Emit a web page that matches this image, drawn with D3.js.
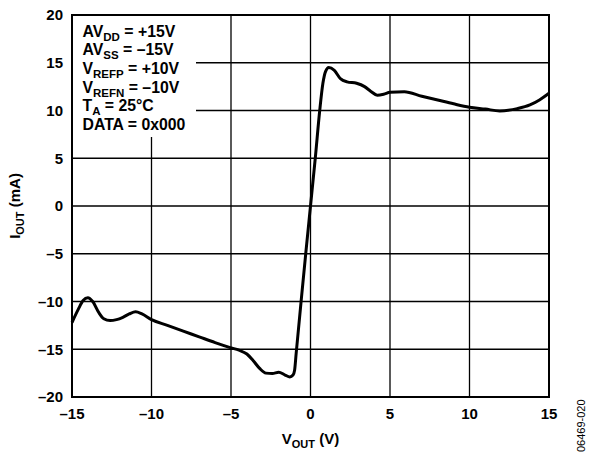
<!DOCTYPE html>
<html>
<head>
<meta charset="utf-8">
<script src="https://cdn.jsdelivr.net/npm/d3@7"></script>
<style>
    body { margin: 0; background: #fff; }
    svg text { font-family: "Liberation Sans", Arial, sans-serif; font-weight: bold; fill: #000; }
</style>
</head>
<body>
<div id="chart"></div>
<script>
// output voltage (V) and output current (mA)
const vOut = [-15, -14.6, -14.3, -14.0, -13.7, -13.3, -13.0, -12.6, -12.2, -11.8, -11.4, -11.0, -10.6, -10,
    -9, -8, -7, -6, -5, -4.5, -4, -3.6, -3.2, -2.8, -2.4, -2.0, -1.6, -1.3, -1.1, -1.0, -0.9,
    -0.58, -0.3, 0, 0.3, 0.58, 0.78, 0.95, 1.15, 1.5, 1.9, 2.3, 2.9, 3.4, 3.8, 4.2, 4.6, 5.0,
    5.9, 7.0, 8.0, 9.0, 10.0, 11.0, 11.9, 13.0, 13.8, 14.4, 15.0];
const iOut = [-12.2, -10.8, -9.9, -9.6, -10.0, -11.2, -11.8, -12.0, -11.9, -11.65, -11.3, -11.07, -11.3, -11.9,
    -12.5, -13.1, -13.7, -14.3, -14.85, -15.1, -15.5, -16.2, -17.0, -17.5, -17.55, -17.4, -17.7, -17.9, -17.7, -17.2, -15.4,
    -9.8, -5, 0, 5, 10, 12.85, 14.1, 14.5, 14.2, 13.3, 13.0, 12.85, 12.5, 12.0, 11.6, 11.7, 11.9,
    11.97, 11.5, 11.1, 10.7, 10.35, 10.15, 9.95, 10.2, 10.58, 11.1, 11.8];

const xTicks = [-15, -10, -5, 0, 5, 10, 15];
const yTicks = [-20, -15, -10, -5, 0, 5, 10, 15, 20];

// condition lines: [main, subscript, rest]
const notes = [
    ["AV", "DD", " = +15V"],
    ["AV", "SS", " = –15V"],
    ["V", "REFP", " = +10V"],
    ["V", "REFN", " = –10V"],
    ["T", "A", " = 25°C"],
    ["DATA = 0x000", "", ""]
];

const W = 590, H = 454;
const plot = {left: 72, top: 15, right: 549, bottom: 397};

const fmt = d => d < 0 ? "–" + Math.abs(d) : String(d);

const svg = d3.select("#chart").append("svg")
    .attr("width", W)
    .attr("height", H);

const x = d3.scaleLinear().domain([-15, 15]).range([plot.left, plot.right]);
const y = d3.scaleLinear().domain([-20, 20]).range([plot.bottom, plot.top]);

// grid
const grid = svg.append("g")
    .attr("stroke", "#000")
    .attr("stroke-width", 1.3);

grid.selectAll(".vg")
    .data(xTicks.slice(1, -1))
    .enter().append("line")
    .attr("x1", d => x(d)).attr("x2", d => x(d))
    .attr("y1", plot.top).attr("y2", plot.bottom);

grid.selectAll(".hg")
    .data(yTicks.slice(1, -1))
    .enter().append("line")
    .attr("x1", plot.left).attr("x2", plot.right)
    .attr("y1", d => y(d)).attr("y2", d => y(d));

// white panel behind the conditions
svg.append("rect")
    .attr("x", plot.left)
    .attr("y", plot.top)
    .attr("width", 124)
    .attr("height", 122)
    .attr("fill", "#fff");

// curve
const line = d3.line()
    .x((d, i) => x(vOut[i]))
    .y(d => y(d))
    .curve(d3.curveMonotoneX);

svg.append("path")
    .datum(iOut)
    .attr("d", line)
    .attr("fill", "none")
    .attr("stroke", "#000")
    .attr("stroke-width", 3)
    .attr("stroke-linejoin", "round");

// frame
svg.append("rect")
    .attr("x", plot.left)
    .attr("y", plot.top)
    .attr("width", plot.right - plot.left)
    .attr("height", plot.bottom - plot.top)
    .attr("fill", "none")
    .attr("stroke", "#000")
    .attr("stroke-width", 2);

// tick labels
svg.append("g")
    .selectAll("text")
    .data(xTicks)
    .enter().append("text")
    .attr("x", d => x(d))
    .attr("y", 418.5)
    .attr("text-anchor", "middle")
    .attr("font-size", 15)
    .text(fmt);

svg.append("g")
    .selectAll("text")
    .data(yTicks)
    .enter().append("text")
    .attr("x", 63)
    .attr("y", d => y(d))
    .attr("dy", "0.36em")
    .attr("text-anchor", "end")
    .attr("font-size", 15)
    .text(fmt);

// conditions
const note = svg.append("g")
    .attr("font-size", 15.8)
    .selectAll("text")
    .data(notes)
    .enter().append("text")
    .attr("x", 82.5)
    .attr("y", (d, i) => 36.5 + i * 18.7);

note.append("tspan").text(d => d[0]);
note.append("tspan").attr("font-size", 11.5).attr("dy", 4).text(d => d[1]);
note.append("tspan").attr("dy", -4).text(d => d[2]);

// axis titles
const xt = svg.append("text")
    .attr("x", x(0))
    .attr("y", 444)
    .attr("text-anchor", "middle")
    .attr("font-size", 15);
xt.append("tspan").text("V");
xt.append("tspan").attr("font-size", 11).attr("dy", 4).text("OUT");
xt.append("tspan").attr("dy", -4).text(" (V)");

const yt = svg.append("text")
    .attr("transform", "translate(20," + y(0) + ") rotate(-90)")
    .attr("text-anchor", "middle")
    .attr("font-size", 15);
yt.append("tspan").text("I");
yt.append("tspan").attr("font-size", 11).attr("dy", 4).text("OUT");
yt.append("tspan").attr("dy", -4).text(" (mA)");

// figure code
svg.append("text")
    .attr("transform", "translate(584.5,452) rotate(-90)")
    .attr("font-size", 11)
    .style("font-weight", "normal")
    .text("06469-020");
</script>
</body>
</html>
